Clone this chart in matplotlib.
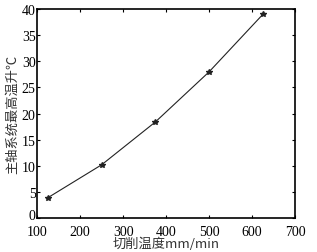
import matplotlib
matplotlib.use('Agg')
import matplotlib.pyplot as plt
import matplotlib.transforms as mtransforms

# cutting speed vs. max temperature rise of spindle system
speed = [125, 250, 375, 500, 625]
temp_rise = [3.9, 10.2, 18.4, 28.0, 39.0]

xlabel = '切削温度mm/min'
ylabel = '主轴系统最高温升℃'

plt.rcParams['font.family'] = ['Liberation Serif', 'Noto Sans CJK SC']

fig = plt.figure(figsize=(3.17, 2.53), dpi=100)
ax = fig.add_axes([0.117, 0.134, 0.814, 0.826])

ax.plot(speed, temp_rise, color='#222222', lw=0.8, marker='*', ms=4)

ax.set_xlim(100, 700)
ax.set_ylim(0, 40)
ax.set_xticks(range(100, 701, 100))
ax.set_yticks(range(0, 41, 5))
ax.tick_params(direction='in', top=True, right=True, length=2.5, width=0.8,
               labelsize=10, pad=1)
ax.tick_params(axis='x', pad=5)
for s in ax.spines.values():
    s.set_linewidth(1.2)

# nudge the bottom y label up a few pixels so it clears the "100" below it
lbl0 = ax.get_yticklabels()[0]
lbl0.set_transform(lbl0.get_transform() +
                   mtransforms.ScaledTranslation(0, 3 / 72, fig.dpi_scale_trans))

ax.set_xlabel(xlabel, fontsize=9.5, color='#333333',
              family=['Noto Sans CJK SC', 'Liberation Serif'], labelpad=-1)
ax.set_ylabel(ylabel, fontsize=9.5, color='#333333',
              family=['Noto Sans CJK SC', 'DejaVu Sans'], labelpad=2)

fig.savefig('out.png', dpi=100)
